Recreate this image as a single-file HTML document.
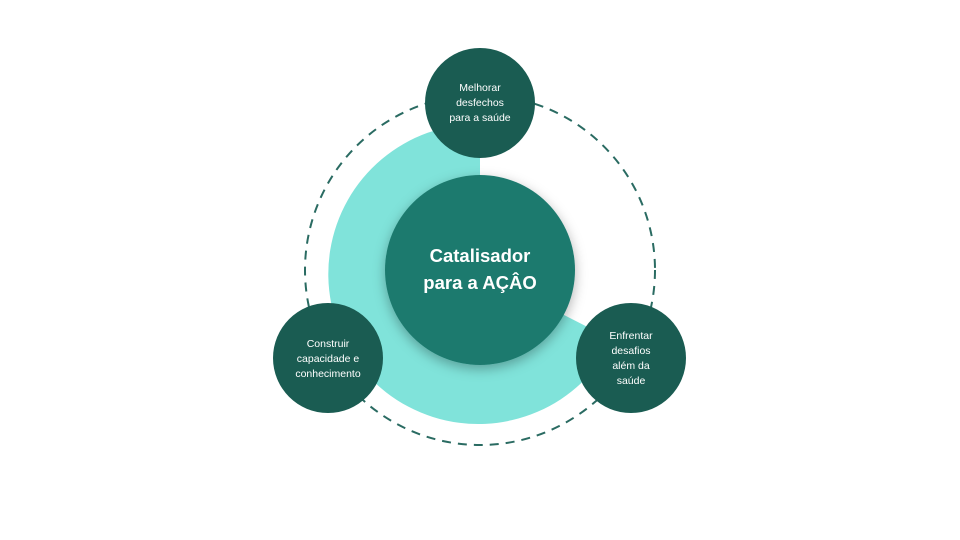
<!DOCTYPE html>
<html><head><meta charset="utf-8"><style>
html,body{margin:0;padding:0;background:#fff;}
svg{display:block}
text{font-family:"Liberation Sans",sans-serif;fill:#fff;text-anchor:middle}
</style></head><body>
<svg width="960" height="540" viewBox="0 0 960 540">
<defs>
<filter id="sh" x="-30%" y="-30%" width="160%" height="160%"><feDropShadow dx="0" dy="4" stdDeviation="6" flood-color="#000" flood-opacity="0.3"/></filter>
</defs>
<circle cx="480" cy="270" r="175" fill="none" stroke="#2a6b62" stroke-width="2" stroke-dasharray="9,7"/>
<path d="M480,272 L480,124 A150,150 0 1 0 613,340 Z" fill="#80e3da"/>
<circle cx="480" cy="270" r="95" fill="#1d7a6e" filter="url(#sh)"/>
<text x="480" y="262" font-size="18.5" font-weight="bold">Catalisador</text>
<text x="480" y="289" font-size="18.5" font-weight="bold">para a AÇÂO</text>
<circle cx="480" cy="103" r="55" fill="#1a5c52"/>
<text x="480" y="91" font-size="10.5">Melhorar</text>
<text x="480" y="106" font-size="10.5">desfechos</text>
<text x="480" y="121" font-size="10.5">para a saúde</text>
<circle cx="328" cy="358" r="55" fill="#1a5c52"/>
<text x="328" y="347" font-size="10.5">Construir</text>
<text x="328" y="362" font-size="10.5">capacidade e</text>
<text x="328" y="377" font-size="10.5">conhecimento</text>
<circle cx="631" cy="358" r="55" fill="#1a5c52"/>
<text x="631" y="339" font-size="10.5">Enfrentar</text>
<text x="631" y="354" font-size="10.5">desafios</text>
<text x="631" y="369" font-size="10.5">além da</text>
<text x="631" y="384" font-size="10.5">saúde</text>
</svg>
</body></html>
